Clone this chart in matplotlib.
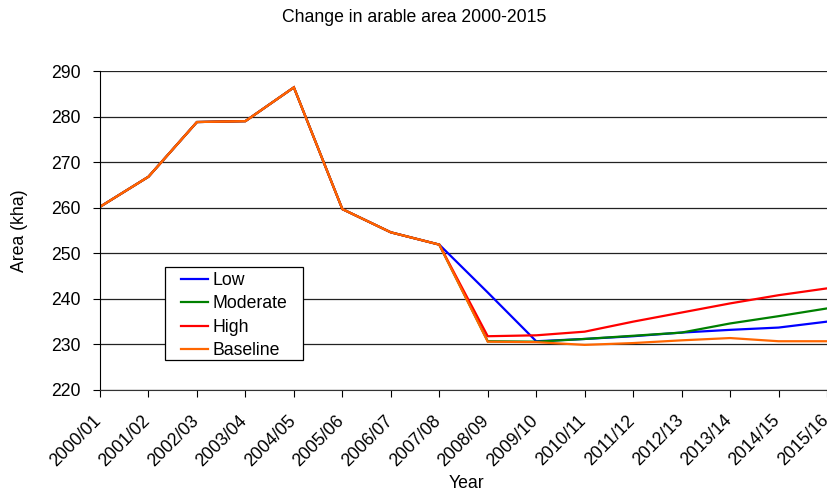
import matplotlib
matplotlib.use("Agg")
import matplotlib.pyplot as plt
import matplotlib.transforms as mtransforms
from matplotlib.patches import Rectangle

plt.rcParams['font.family'] = ['Liberation Sans', 'DejaVu Sans']
plt.rcParams['font.size'] = 12.7

years = ["2000/01", "2001/02", "2002/03", "2003/04", "2004/05", "2005/06",
         "2006/07", "2007/08", "2008/09", "2009/10", "2010/11", "2011/12",
         "2012/13", "2013/14", "2014/15", "2015/16"]

history = [260.2, 266.8, 278.8, 279.0, 286.4, 259.7, 254.6, 251.9]

low = history + [241.4, 230.7, 231.2, 231.8, 232.6, 233.2, 233.7, 235.0]
moderate = history + [230.7, 230.6, 231.2, 231.9, 232.6, 234.6, 236.2, 237.9]
high = history + [231.8, 232.0, 232.8, 235.0, 237.0, 239.0, 240.8, 242.3]
baseline = history + [230.6, 230.5, 229.9, 230.3, 230.9, 231.4, 230.7, 230.7]

series = [("Low", low, "#0000ff"),
          ("Moderate", moderate, "#008000"),
          ("High", high, "#ff0000"),
          ("Baseline", baseline, "#ff6600")]

W, H = 828, 492
AX_L, AX_B, AX_W, AX_H = 100, 102, 727, 319
fig = plt.figure(figsize=(W / 100, H / 100), dpi=100)
ax = fig.add_axes([AX_L / W, AX_B / H, AX_W / W, AX_H / H])

x = list(range(len(years)))
for name, vals, col in series:
    ax.plot(x, vals, color=col, lw=1.6, label=name, solid_joinstyle='miter')

ax.set_xlim(0, len(years) - 1)
ax.set_ylim(220, 290)
ax.set_yticks(range(220, 291, 10))
ax.set_xticks(x)
ax.set_xticklabels([])
ax.tick_params(axis='both', direction='out', length=5, width=0.8, colors='black', labelsize=12.7)
ax.tick_params(axis='y', pad=9)

# slanted year labels, top-right corner placed just left of and below each tick
base = mtransforms.blended_transform_factory(ax.transData, ax.transAxes)
shift = mtransforms.ScaledTranslation(-7 / 100, -22 / 100, fig.dpi_scale_trans)
for i, yr in enumerate(years):
    ax.text(i, 0, yr, transform=base + shift, rotation=45, ha='right', va='top',
            rotation_mode='anchor', clip_on=False)

ax.yaxis.grid(True, color='#222222', lw=0.9)
ax.set_axisbelow(True)
for s in ['top', 'right']:
    ax.spines[s].set_visible(False)
ax.spines['left'].set_color('black')
ax.spines['bottom'].set_color('#333333')

fig.text(19 / W, 1 - 231 / H, "Area (kha)", rotation=90, ha='center', va='center')
fig.text(466 / W, 1 - 484 / H, "Year", ha='center', va='center')
fig.text(0.5, 1 - 18 / H, "Change in arable area 2000-2015", ha='center', va='center')


def px_to_axes(px, py):
    # figure pixels (from top-left) -> axes fraction
    return (px - AX_L) / AX_W, (H - py - AX_B) / AX_H


# legend box drawn separately so its padding can be wider than the rows
bx0, by0 = px_to_axes(165, 360)
bx1, by1 = px_to_axes(303, 267)
ax.add_patch(Rectangle((bx0, by0), bx1 - bx0, by1 - by0, transform=ax.transAxes,
                       facecolor='white', edgecolor='black', lw=0.9, zorder=4.5, clip_on=False))

lx, ly = px_to_axes(181, 272)
leg = ax.legend(loc='upper left', bbox_to_anchor=(lx, ly), frameon=False,
                handlelength=1.53, handletextpad=0.23, borderpad=0,
                labelspacing=0.36, borderaxespad=0)

fig.savefig("out.png", dpi=100)
